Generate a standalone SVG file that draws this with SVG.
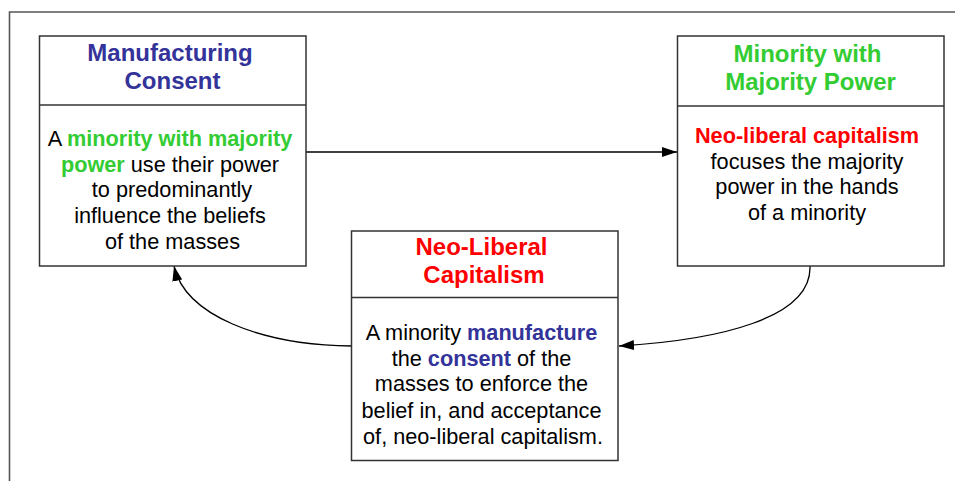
<svg xmlns="http://www.w3.org/2000/svg" width="955" height="481" viewBox="0 0 955 481">
<defs>
<style>
.box{fill:#fff;stroke:#333;stroke-width:1.5}
.div{stroke:#333;stroke-width:1.3}
.frame{fill:none;stroke:#555;stroke-width:1.6}
.t{font-family:"Liberation Sans",Arial,sans-serif;font-weight:bold;font-size:24px;text-anchor:middle}
.b{font-family:"Liberation Sans",Arial,sans-serif;font-size:21.7px;text-anchor:middle;fill:#000}
.bold{font-weight:bold}
.blue{fill:#333399}
.green{fill:#33cc33}
.red{fill:#ff0000}
.conn{fill:none;stroke:#000;stroke-width:1.3}
</style>
<marker id="arr" viewBox="0 0 15 10" refX="15" refY="5" markerWidth="15" markerHeight="10" markerUnits="userSpaceOnUse" orient="auto">
<path d="M0,0 L15,5 L0,10 z" fill="#000"/>
</marker>
</defs>
<rect width="955" height="481" fill="#fff"/>
<path class="frame" d="M9.5,481 V12 H955"/>
<g id="connectors">
<path class="conn" d="M306,152 H677" marker-end="url(#arr)"/>
<path class="conn" d="M810,266 C812,318 720,340 619,346" marker-end="url(#arr)"/>
<path class="conn" d="M351.5,346 C260,345 185,315 174,266" marker-end="url(#arr)"/>
</g>
<g id="manufacturing-consent">
<rect class="box" x="39.5" y="36" width="266.5" height="230"/>
<line class="div" x1="39.5" y1="105" x2="306" y2="105"/>
<text class="t blue" x="170" y="61">Manufacturing</text>
<text class="t blue" x="172.5" y="89">Consent</text>
<text class="b" x="170" y="145.5">A <tspan class="bold green">minority with majority</tspan></text>
<text class="b" x="170" y="171.5"><tspan class="bold green">power</tspan> use their power</text>
<text class="b" x="172" y="197">to predominantly</text>
<text class="b" x="170" y="223">influence the beliefs</text>
<text class="b" x="172.5" y="249">of the masses</text>
</g>
<g id="minority-majority-power">
<rect class="box" x="677.5" y="36" width="266.5" height="230"/>
<line class="div" x1="677.5" y1="106" x2="944" y2="106"/>
<text class="t green" x="807.5" y="61.5">Minority with</text>
<text class="t green" x="810.5" y="89.5">Majority Power</text>
<text class="b bold red" x="807" y="142.5">Neo-liberal capitalism</text>
<text class="b" x="807" y="168.5">focuses the majority</text>
<text class="b" x="807" y="194">power in the hands</text>
<text class="b" x="807" y="220">of a minority</text>
</g>
<g id="neo-liberal-capitalism">
<rect class="box" x="351.5" y="231" width="266.5" height="229.5"/>
<line class="div" x1="351.5" y1="297.5" x2="618" y2="297.5"/>
<text class="t red" x="481.5" y="255">Neo-Liberal</text>
<text class="t red" x="484" y="283">Capitalism</text>
<text class="b" x="481.5" y="339.5">A minority <tspan class="bold blue">manufacture</tspan></text>
<text class="b" x="481.5" y="365.5">the <tspan class="bold blue">consent</tspan> of the</text>
<text class="b" x="481.5" y="391">masses to enforce the</text>
<text class="b" x="481.5" y="417.5">belief in, and acceptance</text>
<text class="b" x="483" y="443.5">of, neo-liberal capitalism.</text>
</g>
</svg>
